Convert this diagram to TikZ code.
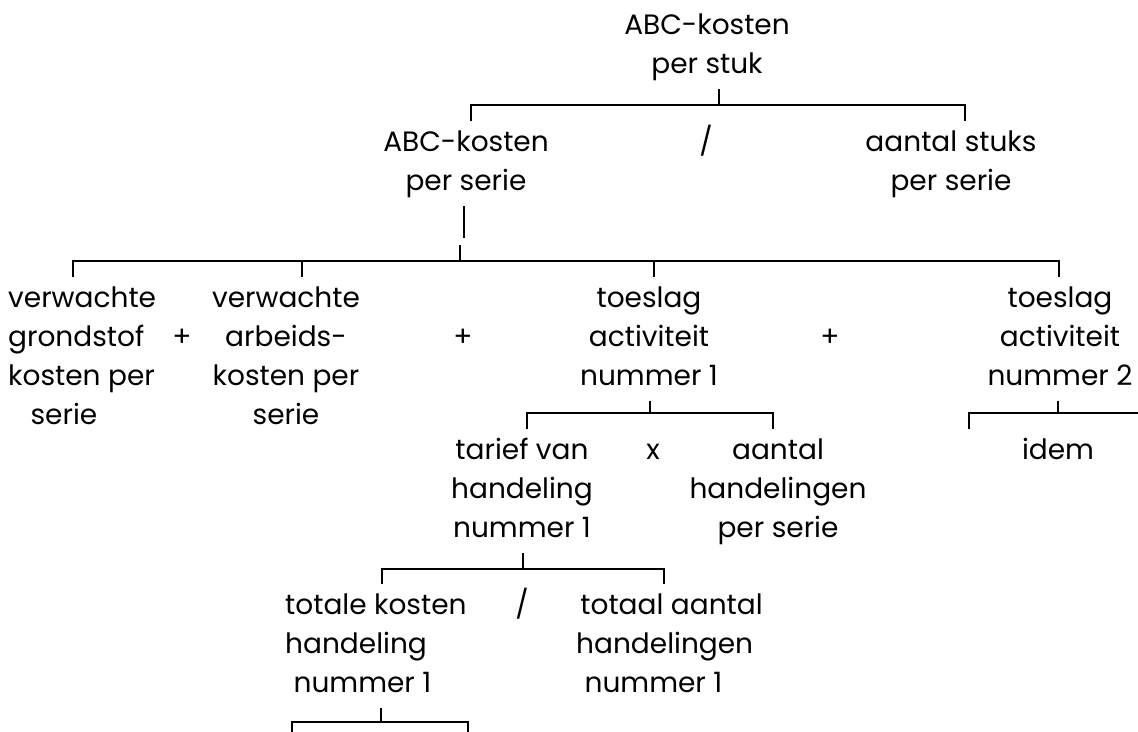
\documentclass[tikz,border=0pt]{standalone}
\usepackage{fontspec}
\setmainfont{Poppins}
\newcommand\st{\rule[-8pt]{0pt}{30pt}}
\begin{document}
\begin{tikzpicture}[x=1pt,y=-1pt,
  lbl/.style={inner xsep=0pt,inner ysep=8pt,font=\fontsize{28}{39}\selectfont,align=center},
  lbll/.style={lbl,align=left},
  op/.style={inner sep=0pt,font=\fontsize{28}{39}\selectfont,anchor=base},
  ln/.style={line width=1.6pt}]
\useasboundingbox (0,0) rectangle (1138,731);
% row A
\node[lbl,anchor=north] (top) at (707,4) {\st ABC-kosten\\\st per stuk};
% row B
\node[lbl,anchor=north] (abc2) at (466,121) {\st ABC-kosten\\\st per serie};
\node[op] (div1) at (706,151) {/};
\node[lbl,anchor=north] (aantal) at (951,121) {\st aantal stuks\\\st per serie};
% row C
\node[lbll,anchor=north west] (v1) at (8,277) {\st verwachte\\\st grondstof\\\st kosten per\\\st\hspace*{0.8em}serie};
\node[op] (plus1) at (182,346) {+};
\node[lbl,anchor=north] (v2) at (286,277) {\st verwachte\\\st arbeids-\\\st kosten per\\\st serie};
\node[op] (plus2) at (463,346) {+};
\node[lbl,anchor=north] (t1) at (649,277) {\st toeslag\\\st activiteit\\\st nummer 1};
\node[op] (plus3) at (830,346) {+};
\node[lbl,anchor=north] (t2) at (1060,277) {\st toeslag\\\st activiteit\\\st nummer 2};
% row D
\node[lbl,anchor=north] (tarief) at (522,429) {\st tarief van\\\st handeling\\\st nummer 1};
\node[op] (times) at (653,459) {x};
\node[lbl,anchor=north] (aantalh) at (778,429) {\st aantal\\\st handelingen\\\st per serie};
\node[lbl,anchor=north] (idem) at (1058,429) {\st idem};
% row E
\node[lbll,anchor=north west] (totale) at (285,584) {\st totale kosten\\\st handeling\\\st\hspace*{0.3em}nummer 1};
\node[op] (div2) at (522,614) {/};
\node[lbll,anchor=north west] (totaal) at (576,584) {\st\hspace*{0.15em}totaal aantal\\\st handelingen\\\st\hspace*{0.3em}nummer 1};
% bracket 1
\coordinate (J1) at (719,105);
\coordinate (T1a) at (471,105);
\coordinate (T1b) at (965,105);
\draw[ln] (J1 |- top.south) -- (J1);
\draw[ln] (T1a |- abc2.north) -- (T1a) -- (T1b) -- (T1b |- aantal.north);
% broken vertical under ABC-kosten per serie
\coordinate (V1) at (464,238);
\coordinate (J2s) at (460,245);
\coordinate (J2) at (460,261);
\draw[ln] (V1 |- abc2.south) -- (V1);
\draw[ln] (J2s) -- (J2);
% bracket 2
\coordinate (T2a) at (73,261);
\coordinate (T2b) at (302,261);
\coordinate (T2c) at (654,261);
\coordinate (T2d) at (1059,261);
\draw[ln] (T2a |- v1.north) -- (T2a) -- (T2d) -- (T2d |- t2.north);
\draw[ln] (T2b) -- (T2b |- v2.north);
\draw[ln] (T2c) -- (T2c |- t1.north);
% bracket 3
\coordinate (J3) at (650,413);
\coordinate (T3a) at (527,413);
\coordinate (T3b) at (773,413);
\draw[ln] (J3 |- t1.south) -- (J3);
\draw[ln] (T3a |- tarief.north) -- (T3a) -- (T3b) -- (T3b |- aantalh.north);
% bracket under toeslag 2
\coordinate (J4) at (1058,413);
\coordinate (T4a) at (969,413);
\coordinate (T4b) at (1140,413);
\draw[ln] (J4 |- t2.south) -- (J4);
\draw[ln] (T4a |- idem.north) -- (T4a) -- (T4b);
% bracket 4
\coordinate (J5) at (523,569);
\coordinate (T5a) at (382,569);
\coordinate (T5b) at (664,569);
\draw[ln] (J5 |- tarief.south) -- (J5);
\draw[ln] (T5a |- totale.north) -- (T5a) -- (T5b) -- (T5b |- totaal.north);
% bracket 5
\coordinate (J6) at (381,722);
\coordinate (T6a) at (292,722);
\coordinate (T6b) at (468,722);
\coordinate (E6a) at (292,735);
\coordinate (E6b) at (468,735);
\draw[ln] (J6 |- totale.south) -- (J6);
\draw[ln] (E6a) -- (T6a) -- (T6b) -- (E6b);
\end{tikzpicture}
\end{document}
